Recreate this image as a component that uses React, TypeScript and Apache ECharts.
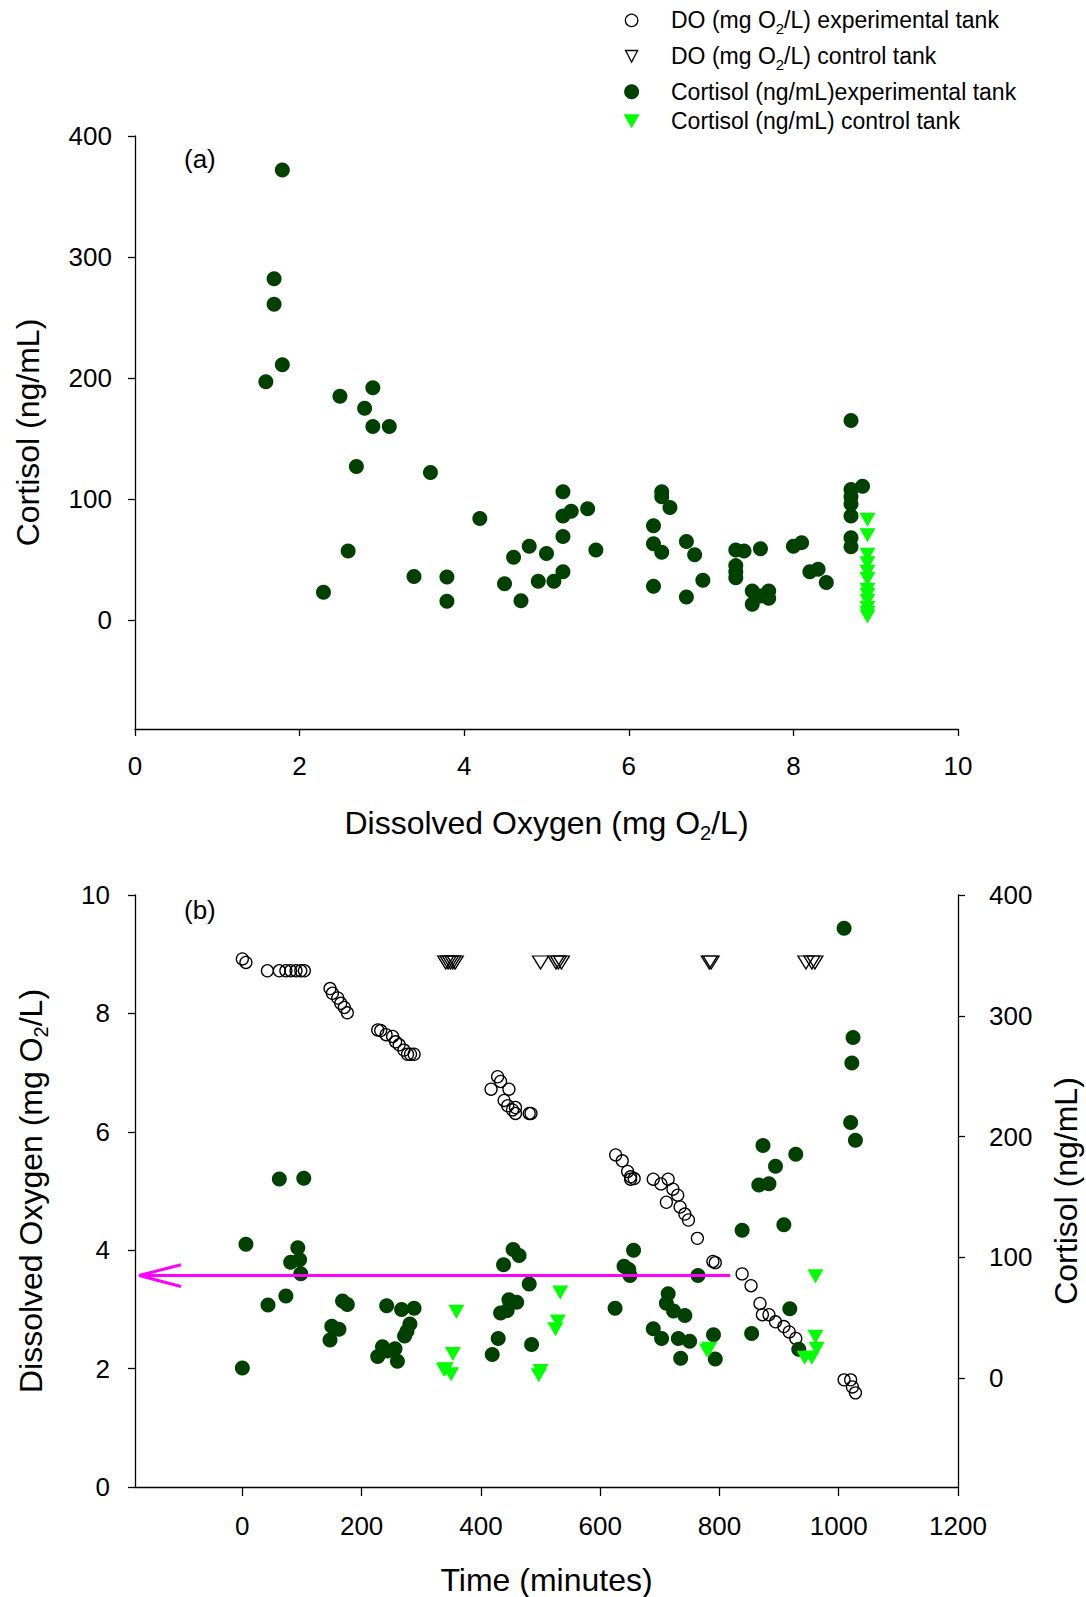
import React, { useEffect, useRef } from "react";
import * as echarts from "echarts";

const FONT = "'Liberation Sans', Arial, Helvetica, sans-serif";

const seriesNames = [
  "DO (mg O2/L) experimental tank",
  "DO (mg O2/L) control tank",
  "Cortisol (ng/mL)experimental tank",
  "Cortisol (ng/mL) control tank",
];

const cortisolTicks = [0, 100, 200, 300, 400];
const timeTicks = [0, 200, 400, 600, 800, 1000, 1200];

// Panel (a): [dissolved oxygen, cortisol]
const cortisolVsDoExperimental = [
  [1.79, 372], [1.69, 282], [1.69, 261], [1.79, 211], [1.59, 197], [2.49, 185], [2.89, 192],
  [2.79, 175], [2.89, 160], [3.09, 160], [2.69, 127], [3.59, 122], [4.19, 84], [2.59, 57],
  [2.29, 23], [3.39, 36], [3.79, 35.5], [3.79, 15.5], [4.49, 30], [4.6, 52], [4.79, 61],
  [4.69, 16], [5.0, 55], [4.9, 32], [5.09, 32], [5.2, 40], [5.2, 69], [5.2, 86], [5.2, 106],
  [5.3, 90], [5.5, 92], [5.6, 58], [6.3, 78], [6.3, 63], [6.4, 56], [6.3, 28], [6.4, 106],
  [6.4, 102], [6.5, 93], [6.7, 65], [6.8, 54], [6.9, 33], [6.7, 19], [7.3, 58], [7.4, 57],
  [7.6, 59], [7.3, 45], [7.3, 40], [7.3, 35], [7.5, 24], [7.5, 13], [7.7, 24], [7.7, 18],
  [7.6, 20], [8.0, 61], [8.1, 64], [8.2, 40], [8.3, 42], [8.4, 31], [8.7, 165], [8.7, 108],
  [8.84, 110.5], [8.7, 102], [8.7, 96], [8.7, 86], [8.7, 68], [8.7, 60.5],
];
const cortisolVsDoControl = [
  [8.9, 83], [8.9, 70], [8.9, 54], [8.9, 47], [8.9, 40], [8.9, 34], [8.9, 25], [8.9, 21],
  [8.9, 16], [8.9, 10], [8.9, 6], [8.9, 3],
];

// Panel (b): [time (min), value]
const doExperimentalOverTime = [
  [0, 8.92], [6, 8.86], [42, 8.72], [62, 8.72], [73, 8.72], [81, 8.72], [90, 8.72], [98, 8.72],
  [104, 8.72], [147, 8.42], [151, 8.34], [160, 8.26], [165, 8.17], [171, 8.1], [176, 8.01],
  [227, 7.72], [232, 7.71], [241, 7.64], [252, 7.61], [257, 7.52], [263, 7.47], [271, 7.38],
  [277, 7.31], [282, 7.31], [288, 7.31], [417, 6.72], [428, 6.93], [433, 6.85], [439, 6.53],
  [445, 6.44], [447, 6.72], [453, 6.37], [458, 6.41], [458, 6.31], [481, 6.31], [484, 6.31],
  [626, 5.61], [637, 5.51], [646, 5.33], [651, 5.24], [657, 5.21], [651, 5.2], [689, 5.2],
  [702, 5.12], [711, 4.81], [714, 5.2], [722, 5.03], [730, 4.93], [734, 4.73], [742, 4.61],
  [748, 4.51], [763, 4.2], [789, 3.81], [793, 3.79], [838, 3.6], [853, 3.4], [868, 3.1],
  [872, 2.91], [883, 2.91], [894, 2.79], [908, 2.71], [917, 2.62], [928, 2.51], [1009, 1.81],
  [1020, 1.81], [1023, 1.69], [1028, 1.59],
];
const doControlOverTime = [
  [341, 8.86], [345, 8.86], [349, 8.86], [353, 8.86], [357, 8.86], [500, 8.86], [526, 8.86],
  [530, 8.86], [535, 8.86], [783, 8.86], [786, 8.86], [945, 8.86], [955, 8.86], [960, 8.86],
];
const cortisolExperimentalOverTime = [
  [0, 8.5], [6, 111], [43, 60.6], [62, 165], [73, 68], [81, 96], [93, 108], [96, 98], [98, 86.5],
  [103, 165.5], [147, 31.7], [150, 43], [162, 40.5], [168, 64], [176, 61], [227, 18], [235, 26],
  [242, 60], [243, 22.6], [256, 24.5], [260, 14], [267, 57], [272, 35], [276, 39], [281, 45],
  [288, 58], [419, 19.6], [429, 33], [433, 54], [438, 94], [444, 56], [447, 65], [454, 106.6],
  [460, 63], [464, 101.7], [481, 78], [485, 28], [625, 58], [640, 92.8], [648, 90], [650, 85],
  [656, 106], [689, 41], [703, 33], [711, 62], [714, 70], [723, 55.6], [731, 33], [735, 16.5],
  [742, 52], [750, 30.6], [764, 85], [790, 36], [793, 16], [838, 122.6], [854, 37], [866, 160],
  [873, 192.6], [883, 161], [894, 175.5], [908, 127], [918, 57.6], [928, 185.5], [933, 24],
  [1009, 372.5], [1020, 211.6], [1022, 261], [1024, 282], [1028, 197],
];
const cortisolControlOverTime = [
  [338, 7], [341, 7.4], [350, 3.3], [353, 20], [359, 55], [497, 2.5], [500, 6], [525, 40.5],
  [529, 47], [533, 71], [779, 23], [783, 24.5], [943, 17], [955, 17], [961, 34.4], [963, 24.5],
  [961, 84.5],
];

// Magenta arrow annotation in panel (b): [time, cortisol]
const arrowShaft = [[818, 85], [-173, 85]];
const arrowHead = [[-103, 94], [-173, 85], [-103, 76]];

const BLACK = "#000";
const DARK = "#004000";
const LIGHT = "#00ff00";

const lineStyle = { color: BLACK, width: 1.3 };

const subRich = (size: number, pad: number) => ({
  sub: { fontSize: size, fontFamily: FONT, color: BLACK, fill: BLACK, padding: [pad, 0, 0, 0] },
});

const nameStyle = {
  fontSize: 32,
  fontFamily: FONT,
  color: BLACK,
  rich: subRich(20, 20),
};

const plainNumber = (v: number) => String(v);

function labelStyle(margin: number, custom?: number[]) {
  const s: any = { fontSize: 26, fontFamily: FONT, color: BLACK, margin, formatter: plainNumber };
  if (custom) s.customValues = custom;
  return s;
}
function tickStyle(length: number, custom?: number[]) {
  const s: any = { show: true, inside: false, length, lineStyle };
  if (custom) s.customValues = custom;
  return s;
}

const richName = (n: string) => n.replace("O2", "O{sub|2}");

function legendGraphics() {
  const centers = [20.4, 56, 91.7, 121.2];
  const sx = 631.6;
  const tx = 671;
  const els: any[] = [];
  const c0 = centers[0];
  els.push({
    type: "circle",
    shape: { cx: sx, cy: c0, r: 6.2 },
    style: { fill: "none", stroke: BLACK, lineWidth: 1.3 },
  });
  const c1 = centers[1];
  els.push({
    type: "polygon",
    shape: { points: [[sx - 6, c1 - 5.5], [sx + 6, c1 - 5.5], [sx, c1 + 6]] },
    style: { fill: "none", stroke: BLACK, lineWidth: 1.3 },
  });
  const c2 = centers[2];
  els.push({
    type: "circle",
    shape: { cx: sx, cy: c2, r: 7.5 },
    style: { fill: DARK },
  });
  const c3 = centers[3];
  els.push({
    type: "polygon",
    shape: { points: [[sx - 8, c3 - 7], [sx + 8, c3 - 7], [sx, c3 + 7]] },
    style: { fill: LIGHT },
  });
  seriesNames.forEach((n, i) => {
    els.push({
      type: "text",
      x: tx,
      y: centers[i],
      style: {
        text: richName(n),
        fontSize: 23,
        fontFamily: FONT,
        fill: BLACK,
        verticalAlign: "middle",
        align: "left",
        rich: {
          sub: { fontSize: 15, fontFamily: FONT, fill: BLACK, padding: [16, 0, 0, 0] },
        },
      },
    });
  });
  return els;
}

export default function App() {
  const ref = useRef<HTMLDivElement>(null);
  useEffect(() => {
    if (!ref.current) return;
    const chart = echarts.init(ref.current, undefined, { renderer: "svg" });
    const option: any = {
      animation: false,
      backgroundColor: "#fff",
      textStyle: { fontFamily: FONT },
      grid: [
        { left: 135, top: 136, width: 823, height: 593, outerBoundsMode: "none" },
        { left: 135, top: 895, width: 823, height: 592, outerBoundsMode: "none" },
      ],
      xAxis: [
        {
          type: "value",
          gridIndex: 0,
          min: 0,
          max: 10,
          interval: 2,
          axisLine: { show: true, onZero: false, lineStyle },
          axisTick: tickStyle(7),
          axisLabel: labelStyle(24),
          splitLine: { show: false },
          name: richName("Dissolved Oxygen (mg O2/L)"),
          nameLocation: "middle",
          nameGap: 74,
          nameMoveOverlap: false,
          nameTextStyle: nameStyle,
        },
        {
          type: "value",
          gridIndex: 1,
          min: -180,
          max: 1200,
          axisLine: { show: true, onZero: false, lineStyle },
          axisTick: tickStyle(9, timeTicks),
          axisLabel: labelStyle(26, timeTicks),
          splitLine: { show: false },
          name: "Time (minutes)",
          nameLocation: "middle",
          nameGap: 77,
          nameMoveOverlap: false,
          nameTextStyle: nameStyle,
        },
      ],
      yAxis: [
        {
          type: "value",
          gridIndex: 0,
          min: -90,
          max: 400,
          axisLine: { show: true, onZero: false, lineStyle },
          axisTick: tickStyle(7, cortisolTicks),
          axisLabel: labelStyle(23, cortisolTicks),
          splitLine: { show: false },
          name: "Cortisol (ng/mL)",
          nameLocation: "middle",
          nameRotate: 90,
          nameGap: 91.5,
          nameMoveOverlap: false,
          nameTextStyle: nameStyle,
        },
        {
          type: "value",
          gridIndex: 1,
          position: "left",
          min: 0,
          max: 10,
          interval: 2,
          axisLine: { show: true, onZero: false, lineStyle },
          axisTick: tickStyle(7),
          axisLabel: labelStyle(25),
          splitLine: { show: false },
          name: richName("Dissolved Oxygen (mg O2/L)"),
          nameLocation: "middle",
          nameRotate: 90,
          nameGap: 84.5,
          nameMoveOverlap: false,
          nameTextStyle: nameStyle,
        },
        {
          type: "value",
          gridIndex: 1,
          position: "right",
          min: -90,
          max: 400,
          axisLine: { show: true, onZero: false, lineStyle },
          axisTick: tickStyle(7, cortisolTicks),
          axisLabel: labelStyle(31, cortisolTicks),
          splitLine: { show: false },
          name: "Cortisol (ng/mL)",
          nameLocation: "middle",
          nameRotate: 90,
          nameGap: 91.5,
          nameMoveOverlap: false,
          nameTextStyle: nameStyle,
        },
      ],
      graphic: [
        {
          type: "text",
          left: 184,
          top: 161 - 15,
          style: { text: "(a)", fontSize: 26, fontFamily: FONT, fill: BLACK },
        },
        {
          type: "text",
          left: 184,
          top: 912 - 15,
          style: { text: "(b)", fontSize: 26, fontFamily: FONT, fill: BLACK },
        },
        ...legendGraphics(),
      ],
      series: [
        {
          type: "scatter",
          name: seriesNames[2],
          xAxisIndex: 0,
          yAxisIndex: 0,
          data: cortisolVsDoExperimental,
          symbol: "circle",
          symbolSize: 15,
          itemStyle: { color: DARK, opacity: 1 },
        },
        {
          type: "scatter",
          name: seriesNames[3],
          xAxisIndex: 0,
          yAxisIndex: 0,
          data: cortisolVsDoControl,
          symbol: "triangle",
          symbolRotate: 180,
          symbolSize: [16, 14],
          itemStyle: { color: LIGHT, opacity: 1 },
        },
        {
          type: "scatter",
          name: seriesNames[0],
          xAxisIndex: 1,
          yAxisIndex: 1,
          data: doExperimentalOverTime,
          symbol: "circle",
          symbolSize: 12,
          itemStyle: { color: "rgba(255,255,255,0)", borderColor: BLACK, borderWidth: 1.3, opacity: 1 },
        },
        {
          type: "scatter",
          name: seriesNames[1],
          xAxisIndex: 1,
          yAxisIndex: 1,
          data: doControlOverTime,
          symbol: "triangle",
          symbolRotate: 180,
          symbolSize: [16, 13],
          itemStyle: { color: "rgba(255,255,255,0)", borderColor: BLACK, borderWidth: 1.3, opacity: 1 },
        },
        {
          type: "scatter",
          name: seriesNames[2],
          xAxisIndex: 1,
          yAxisIndex: 2,
          data: cortisolExperimentalOverTime,
          symbol: "circle",
          symbolSize: 15,
          itemStyle: { color: DARK, opacity: 1 },
        },
        {
          type: "scatter",
          name: seriesNames[3],
          xAxisIndex: 1,
          yAxisIndex: 2,
          data: cortisolControlOverTime,
          symbol: "triangle",
          symbolRotate: 180,
          symbolSize: [16, 14],
          itemStyle: { color: LIGHT, opacity: 1 },
        },
        {
          type: "line",
          name: "arrow",
          xAxisIndex: 1,
          yAxisIndex: 2,
          data: arrowShaft,
          symbol: "none",
          silent: true,
          z: 5,
          lineStyle: { color: "#ff00ff", width: 3 },
        },
        {
          type: "line",
          name: "arrowhead",
          xAxisIndex: 1,
          yAxisIndex: 2,
          data: arrowHead,
          symbol: "none",
          silent: true,
          z: 5,
          lineStyle: { color: "#ff00ff", width: 3 },
        },
      ],
    };
    chart.setOption(option);
    return () => chart.dispose();
  }, []);
  return (
    <div
      ref={ref}
      style={{ position: "absolute", left: 0, top: 0, width: 1086, height: 1597, background: "#fff" }}
    />
  );
}
